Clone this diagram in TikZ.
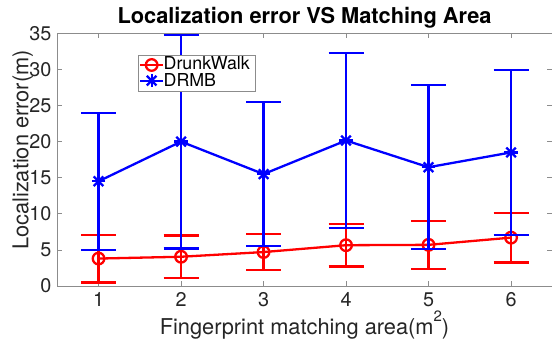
\documentclass[tikz,border=0pt]{standalone}
\usepackage{fontspec}
\setmainfont{TeX Gyre Heros}
\usepackage{tikz}
\usetikzlibrary{calc}
\definecolor{axgray}{RGB}{140,140,140}
\definecolor{labgray}{RGB}{38,38,38}

\begin{document}
\begin{tikzpicture}[x=1pt,y=1pt,
  ebar/.style={line width=2.3pt},
  ticklab/.style={inner sep=0pt,text=labgray,font=\fontsize{19.8}{22}\selectfont},
  axlab/.style={inner sep=0pt,text=labgray,font=\fontsize{21.8}{24}\selectfont},
  leglab/.style={inner sep=0pt,anchor=base west,text=black,font=\fontsize{17.8}{20}\selectfont}]
\useasboundingbox (0,0) rectangle (552,345);

% Title and axis labels
\node[inner sep=0pt,anchor=base,font=\fontsize{21.8}{24}\selectfont\bfseries] (title) at (304.5,321.7) {Localization error VS Matching Area};
\node[axlab,anchor=base] (xlab) at (304.5,10) {Fingerprint matching area(m\raisebox{13pt}{\fontsize{15}{15}\selectfont 2})};
\node[axlab,anchor=base,rotate=90] (ylab) at (28.3,195) {Localization error(m)};

\begin{scope}[shift={(16.05,59)},x=82.5pt,y=7.22pt]
% Axes box with inward ticks
\draw[axgray,line width=0.7pt] (0.5,0) rectangle (6.5,35);
\foreach \i in {1,...,6} {
  \draw[axgray,line width=0.7pt] (\i,0) -- ++(0,5pt) (\i,35) -- ++(0,-5pt);
  \node[ticklab,anchor=base,yshift=-20.7pt] (xt\i) at (\i,0) {\i};
}
\foreach \v in {0,5,...,35} {
  \draw[axgray,line width=0.7pt] (0.5,\v) -- ++(5pt,0) (6.5,\v) -- ++(-5pt,0);
  \node[ticklab,anchor=east,xshift=-5.6pt] (yt\v) at (0.5,\v) {\v};
}

% DrunkWalk: mean +- error
\foreach \i/\m/\e in {1/3.8/3.3,2/4.05/2.95,3/4.7/2.5,4/5.65/2.95,5/5.7/3.3,6/6.7/3.45} {
  \coordinate (dw\i) at (\i,\m);
  \draw[red,ebar] (\i,\m-\e) -- (\i,\m+\e)
    (\i,\m-\e) ++(-17.5pt,0) -- ++(35pt,0)
    (\i,\m+\e) ++(-17.5pt,0) -- ++(35pt,0);
}
\draw[red,ebar] (dw1) -- (dw2) -- (dw3) -- (dw4) -- (dw5) -- (dw6);
\foreach \i in {1,...,6}
  \draw[red,ebar] (dw\i) circle[radius=5.8pt];

% DRMB: mean +- error
\foreach \i/\m/\e in {1/14.5/9.5,2/20/14.8,3/15.5/9.95,4/20.15/12.1,5/16.45/11.35,6/18.5/11.4} {
  \coordinate (dr\i) at (\i,\m);
  \draw[blue,ebar] (\i,\m-\e) -- (\i,\m+\e)
    (\i,\m-\e) ++(-17.5pt,0) -- ++(35pt,0)
    (\i,\m+\e) ++(-17.5pt,0) -- ++(35pt,0);
}
\draw[blue,ebar] (dr1) -- (dr2) -- (dr3) -- (dr4) -- (dr5) -- (dr6);
\foreach \i in {1,...,6}
  \foreach \a in {0,45,90,135}
    \draw[blue,ebar] (dr\i) ++(\a:6.8pt) -- ++(\a+180:13.6pt);
\end{scope}

% Legend
\node[draw=axgray,fill=white,line width=0.7pt,inner sep=0pt,minimum width=116.7pt,minimum height=36.7pt] (legbox) at (196.65,271.65) {};
\coordinate (lgdwA) at (140,280);
\coordinate (lgdwB) at (163.3,280);
\coordinate (lgdrA) at (140,264.3);
\coordinate (lgdrB) at (163.3,264.3);
\draw[red,ebar] (lgdwA) -- (lgdwB);
\draw[red,ebar] ($(lgdwA)!0.5!(lgdwB)$) circle[radius=5.8pt];
\draw[blue,ebar] (lgdrA) -- (lgdrB);
\foreach \a in {0,45,90,135}
  \draw[blue,ebar] ($(lgdrA)!0.5!(lgdrB)$) ++(\a:6.8pt) -- ++(\a+180:13.6pt);
\node[leglab] (legdw) at (163.5,275) {DrunkWalk};
\node[leglab] (legdr) at (163.5,258.3) {DRMB};
\end{tikzpicture}
\end{document}
